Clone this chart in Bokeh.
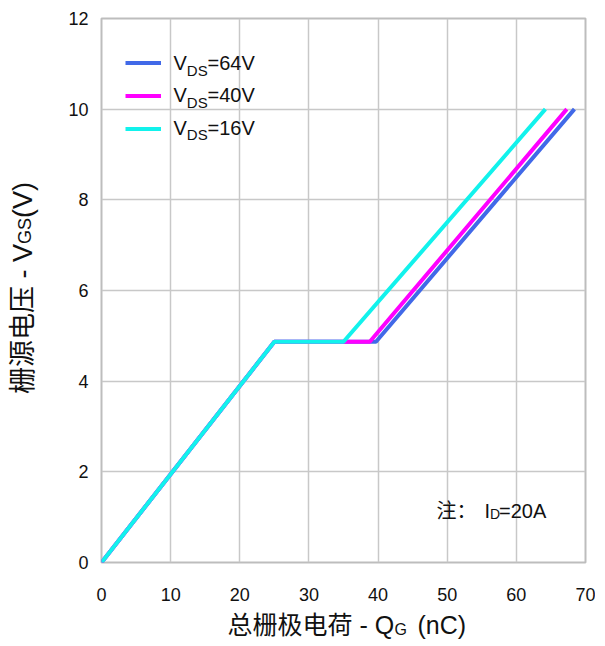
from bokeh.plotting import figure
from bokeh.models import Range1d, FixedTicker, Label, Legend, LegendItem
from bokeh.layouts import row, column
from bokeh.embed import file_html
from bokeh.resources import INLINE
import math

# ---------------- data ----------------
qg_64 = [0, 25.0, 39.7, 68.4]
vgs_64 = [0, 4.87, 4.87, 10.0]
qg_40 = [0, 25.0, 38.8, 67.3]
vgs_40 = [0, 4.87, 4.87, 10.0]
qg_16 = [0, 25.0, 35.0, 64.2]
vgs_16 = [0, 4.87, 4.87, 10.0]
legend_values = ["=64V", "=40V", "=16V"]
x_ticks = [0, 10, 20, 30, 40, 50, 60, 70]
y_ticks = [0, 2, 4, 6, 8, 10, 12]

BLUE = "#4169E8"
MAGENTA = "#FF00FF"
CYAN = "#12F2EC"
LATIN = "Liberation Sans"
MIX = "Liberation Sans, Noto Sans CJK SC"
TXT = "#111111"

TOTAL_H = 640
LW = 45                 # left strip (y title)
MW, MHT = 550, 610      # main chart
BH = TOTAL_H - MHT      # bottom strip (x title)
ML, MR, MT, MB = 56, 10, 18, 48

p = figure(width=MW, height=MHT, x_range=Range1d(0, 70), y_range=Range1d(0, 12),
           output_backend="svg", toolbar_location=None,
           min_border_left=ML, min_border_right=MR, min_border_top=MT, min_border_bottom=MB)
p.background_fill_color = "white"
p.border_fill_color = "white"
p.outline_line_color = "#BDBDBD"
p.outline_line_width = 2

p.xaxis.ticker = FixedTicker(ticks=x_ticks)
p.yaxis.ticker = FixedTicker(ticks=y_ticks)
for ax in (p.xaxis[0], p.yaxis[0]):
    ax.axis_line_color = None
    ax.major_tick_line_color = None
    ax.minor_tick_line_color = None
    ax.major_tick_out = 0
    ax.major_tick_in = 0
    ax.major_label_text_font = LATIN
    ax.major_label_text_font_size = "18px"
    ax.major_label_text_color = TXT
p.xaxis.major_label_standoff = 25
p.yaxis.major_label_standoff = 13

for g in (p.xgrid[0], p.ygrid[0]):
    g.grid_line_color = "#C8C8C8"
    g.grid_line_width = 1.5

r64 = p.line(qg_64, vgs_64, line_color=BLUE, line_width=4)
r40 = p.line(qg_40, vgs_40, line_color=MAGENTA, line_width=4)
r16 = p.line(qg_16, vgs_16, line_color=CYAN, line_width=4)

# frame position in picture pixels
FL = LW + ML
FB = MHT - MB
legend_top = 45.5
legend = Legend(items=[LegendItem(label=" ", renderers=[r]) for r in (r64, r40, r16)],
                location=(125 - FL, FB - legend_top - 99), glyph_width=36, glyph_height=33,
                label_height=33, spacing=0, padding=0, margin=0, label_standoff=0,
                label_text_font_size="1px", background_fill_alpha=0, border_line_alpha=0)
p.add_layout(legend)


def strip(w, h):
    f = figure(width=w, height=h, x_range=Range1d(0, 1), y_range=Range1d(0, 1),
               output_backend="svg", toolbar_location=None,
               x_axis_location=None, y_axis_location=None, min_border=0)
    f.grid.visible = False
    f.outline_line_color = None
    f.background_fill_color = "white"
    f.border_fill_color = "white"
    return f


left = strip(LW, TOTAL_H)
bottom = strip(MW, BH)


def mid(baseline, size):
    return baseline - 0.35 * size


def lab(fig, x0, y_bottom, text, xp, ymid, size, font=MIX, angle=0.0):
    # xp, ymid: picture pixels from the top-left of the page (ymid = text middle)
    fig.add_layout(Label(x=xp - x0, y=y_bottom - ymid, x_units="screen", y_units="screen",
                         text=text, text_font=font,
                         text_font_size=f"{size}px", text_color=TXT,
                         text_align="left", text_baseline="middle", angle=angle))


def lab_top(fig, x0, y_top, text, xp, ymid, size, font=MIX):
    # placed from the top edge of the strip's frame (y = 1 in its range)
    fig.add_layout(Label(x=xp - x0, y=1, x_units="screen", y_units="data",
                         y_offset=-(ymid - y_top), text=text, text_font=font,
                         text_font_size=f"{size}px", text_color=TXT,
                         text_align="left", text_baseline="middle"))


# legend texts
for i, val in enumerate(legend_values):
    base = [69.5, 101.7, 134.0][i]
    lab(p, FL, FB, "V", 173, mid(base, 20), 20, LATIN)
    lab(p, FL, FB, "DS", 186.3, mid(base + 5.5, 15), 15, LATIN)
    lab(p, FL, FB, val, 207, mid(base, 20), 20, LATIN)

# note
lab(p, FL, FB, "注：", 436, mid(517, 20), 20)
lab(p, FL, FB, "I", 484, mid(517, 20), 20, LATIN)
lab(p, FL, FB, "D", 489.5, 513.5, 14, LATIN)
lab(p, FL, FB, "=20A", 498.5, mid(517, 20), 20, LATIN)

# x axis title (bottom strip frame is aligned with the chart frame)
lab_top(bottom, FL, MHT, "总栅极电荷 - Q", 227, 624, 25)
lab_top(bottom, FL, MHT, "G", 394, 628.5, 16, LATIN)
lab_top(bottom, FL, MHT, "(nC)", 417, 624, 25, LATIN)

# y axis title (rotated; x is the middle of the text)
a = math.pi / 2
lab(left, 0, TOTAL_H, "栅源电压 - V", 22.5, 393.5, 27, MIX, a)
lab(left, 0, TOTAL_H, "GS", 24, 243.5, 18, LATIN, a)
lab(left, 0, TOTAL_H, "(V)", 22.5, 217.5, 27, LATIN, a)

layout = row(left, column(p, bottom))
open("out.html", "w").write(file_html(layout, INLINE))
